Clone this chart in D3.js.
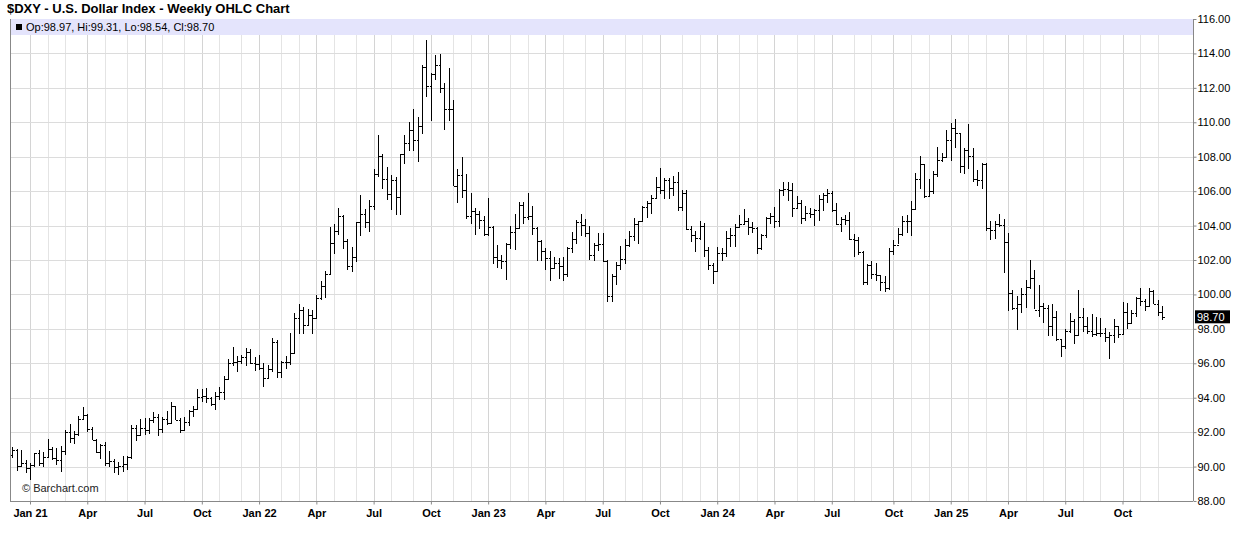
<!DOCTYPE html>
<html><head><meta charset="utf-8">
<script src="https://cdn.jsdelivr.net/npm/d3@7"></script>
<style>
html,body{margin:0;padding:0;background:#fff;}
svg{display:block;font-family:"Liberation Sans",Arial,sans-serif;}
</style></head>
<body>
<svg id="chart" width="1236" height="542"></svg>
<script>
// Weekly bars start with the week of Monday 2020-12-07
const startWeek = "2020-12-07";
const opens = [
90.70,90.98,90.02,90.23,
89.94,90.10,90.77,90.23,90.58,91.04,90.48,90.36,90.88,91.98,91.67,91.92,92.77,93.00,92.16,91.56,90.85,91.28,90.23,90.32,89.98,90.03,90.13,90.55,92.23,91.85,92.23,92.12,92.68,92.90,92.17,92.78,92.52,93.50,92.68,92.13,92.58,93.20,93.33,94.04,94.09,93.96,93.64,94.12,94.32,95.11,96.03,96.09,96.15,96.36,96.64,96.02,
95.97,95.74,95.17,95.64,97.26,95.49,96.07,96.05,96.62,98.62,99.12,98.23,98.80,98.62,99.80,100.50,101.21,103.00,103.66,104.56,103.08,101.67,102.15,104.20,104.69,104.20,105.13,107.01,108.06,106.72,105.85,106.62,105.65,108.16,108.82,109.54,109.00,109.76,113.19,112.12,112.80,113.31,111.99,110.75,110.77,106.29,106.94,106.04,104.54,104.85,104.70,104.32,
103.52,103.89,102.20,102.02,101.92,102.92,103.63,103.87,105.21,104.52,104.58,103.87,103.12,102.51,102.10,101.55,101.82,101.66,101.21,102.68,103.20,104.22,104.02,103.55,102.27,102.89,102.91,101.93,99.91,101.08,101.70,102.03,102.85,103.38,104.08,104.26,105.08,105.32,105.58,106.22,106.04,106.65,106.16,106.56,105.07,105.87,103.82,103.43,103.27,104.00,102.58,101.70,
101.38,102.40,102.39,103.28,103.43,103.92,104.11,104.28,103.94,103.86,102.72,103.43,104.43,104.55,104.29,106.04,106.15,106.09,105.03,105.30,104.45,104.72,104.67,104.89,105.55,105.80,105.87,104.88,104.09,104.40,104.32,103.21,103.14,102.46,100.72,101.70,101.18,101.11,100.72,100.38,102.52,102.89,103.49,104.26,104.28,104.99,106.69,107.55,105.74,105.99,107.00,107.82,108.00,
108.95,109.65,109.35,107.44,108.37,108.04,106.71,106.63,107.56,103.84,103.72,104.09,104.04,103.02,100.10,99.23,99.47,100.03,100.42,100.98,99.11,99.33,99.19,98.18,98.71,97.40,96.98,97.85,98.46,97.65,98.70,98.17,97.85,97.72,97.77,97.77,97.55,97.65,98.15,97.72,98.98,98.35,98.95,99.80,99.60,99.30,100.18,99.46,98.97
];
const highs = [
91.12,91.02,90.96,90.38,
90.21,90.80,90.95,90.84,91.60,91.13,91.05,91.20,92.10,92.48,92.08,92.94,93.44,93.05,92.27,91.58,91.30,91.44,90.91,90.45,90.24,90.63,90.59,92.40,92.41,92.74,92.84,92.83,93.19,93.04,92.87,93.20,93.73,93.53,92.82,92.87,93.29,93.53,94.50,94.51,94.56,94.04,94.31,94.63,95.27,96.25,96.94,96.44,96.48,96.91,96.81,96.39,
96.47,96.03,95.89,97.44,97.37,96.11,96.43,97.74,98.92,99.42,99.29,99.13,99.12,99.94,100.76,101.34,103.93,104.07,105.01,104.61,103.20,102.74,104.23,105.79,104.97,105.47,107.27,109.29,108.14,107.43,106.93,106.81,108.18,109.27,110.02,110.79,110.29,113.33,114.78,112.86,113.92,113.95,112.27,113.15,111.29,107.30,107.99,107.02,105.92,105.04,104.87,104.57,
105.63,103.95,102.90,102.30,103.01,103.96,104.67,105.36,105.36,105.88,105.11,103.89,103.18,102.68,102.55,102.18,102.10,102.20,102.76,103.62,104.31,104.70,104.40,103.99,102.98,103.54,103.55,101.98,101.19,101.86,102.84,103.24,103.71,104.43,104.24,105.16,105.43,105.78,106.84,107.35,106.78,106.78,106.89,107.11,106.09,106.09,104.00,103.66,104.26,104.17,102.73,101.82,
102.73,102.70,103.69,103.83,104.09,104.60,104.97,104.44,104.23,103.93,103.49,104.49,104.73,105.10,106.11,106.52,106.51,106.49,105.74,105.50,105.12,105.00,104.99,105.80,105.91,106.13,106.02,105.29,104.51,104.61,104.79,103.52,103.36,102.52,101.78,101.92,101.80,101.11,101.09,102.69,103.17,103.87,104.57,104.63,105.44,107.07,108.07,107.55,106.73,107.16,108.54,108.20,109.54,
109.96,110.18,109.35,108.52,109.88,108.52,107.20,107.61,107.61,104.26,104.25,104.68,104.37,103.54,100.27,99.88,100.38,100.85,101.98,101.40,100.54,99.48,99.38,99.42,99.05,97.42,97.98,98.95,98.55,100.25,99.22,98.67,98.84,98.68,98.64,98.07,97.84,98.60,98.19,99.56,99.49,99.10,99.85,100.36,99.75,100.39,100.23,99.65,99.31
];
const lows = [
90.47,89.72,89.98,89.65,
89.21,89.95,90.05,89.99,90.52,90.37,90.11,89.68,90.66,91.37,91.30,91.79,92.79,92.00,91.53,90.79,90.42,90.03,89.98,89.65,89.53,89.66,89.80,90.42,91.51,91.85,91.86,91.87,92.56,91.78,91.96,92.44,92.46,92.69,91.94,92.06,92.33,92.86,93.26,93.73,93.67,93.50,93.28,93.87,93.87,95.04,95.86,95.50,95.98,95.85,95.95,95.53,
95.63,94.63,95.15,95.52,95.14,95.12,95.64,95.90,96.61,97.71,97.73,98.18,97.68,98.55,99.65,99.80,101.14,102.36,103.43,102.66,101.43,101.29,101.87,103.41,103.83,103.65,104.89,106.85,106.10,105.48,104.93,104.63,104.64,107.59,108.35,108.35,107.68,109.31,111.45,110.06,112.46,111.68,109.54,110.07,106.27,105.34,105.62,104.37,104.12,103.45,103.79,103.37,
103.38,101.77,101.51,101.50,100.82,102.64,102.57,103.80,104.09,104.33,103.45,101.92,101.92,101.41,100.79,101.46,100.88,100.80,101.01,102.38,102.95,103.39,103.36,102.00,101.92,102.51,101.87,99.58,99.56,100.56,101.40,101.75,102.73,103.09,102.93,104.21,104.42,104.68,105.53,105.85,105.53,105.55,105.73,104.84,104.85,103.77,103.07,102.46,103.14,102.16,101.42,100.62,
101.33,101.96,102.20,102.77,102.76,103.83,104.02,103.44,103.58,102.33,102.60,103.29,104.10,103.88,103.92,105.71,105.42,104.52,104.98,104.08,104.28,104.45,103.99,104.28,104.85,105.30,104.80,104.06,103.65,104.03,103.18,102.16,102.30,100.53,100.52,100.89,100.79,100.22,100.16,100.27,102.28,102.93,103.38,103.58,103.37,104.99,106.14,105.63,105.71,105.86,106.80,107.67,107.90,
107.76,108.48,107.08,107.02,107.26,106.55,106.30,106.12,103.66,103.19,103.20,103.90,101.26,99.01,99.12,97.92,98.94,99.20,100.32,99.15,98.69,98.35,97.60,97.61,97.27,96.38,96.84,97.74,97.11,97.56,97.83,97.71,97.51,97.56,97.50,97.25,96.22,97.15,97.47,97.72,98.02,98.35,98.70,99.35,99.01,99.27,99.45,98.77,98.54
];
const closes = [
90.98,90.02,90.23,89.94,
90.10,90.77,90.23,90.58,91.04,90.48,90.36,90.88,91.98,91.67,91.92,92.77,93.00,92.16,91.56,90.85,91.28,90.23,90.32,89.98,90.03,90.13,90.55,92.23,91.85,92.23,92.12,92.68,92.90,92.17,92.78,92.52,93.50,92.68,92.13,92.58,93.20,93.33,94.04,94.09,93.96,93.64,94.12,94.32,95.11,96.03,96.09,96.15,96.36,96.64,96.02,95.97,
95.74,95.17,95.64,97.26,95.49,96.07,96.05,96.62,98.62,99.12,98.23,98.80,98.62,99.80,100.50,101.21,103.00,103.66,104.56,103.08,101.67,102.15,104.20,104.69,104.20,105.13,107.01,108.06,106.72,105.85,106.62,105.65,108.16,108.82,109.54,109.00,109.76,113.19,112.12,112.80,113.31,111.99,110.75,110.77,106.29,106.94,106.04,104.54,104.85,104.70,104.32,103.52,
103.89,102.20,102.02,101.92,102.92,103.63,103.87,105.21,104.52,104.58,103.87,103.12,102.51,102.10,101.55,101.82,101.66,101.21,102.68,103.20,104.22,104.02,103.55,102.27,102.89,102.91,101.93,99.91,101.08,101.70,102.03,102.85,103.38,104.08,104.26,105.08,105.32,105.58,106.22,106.04,106.65,106.16,106.56,105.07,105.87,103.82,103.43,103.27,104.00,102.58,101.70,101.38,
102.40,102.39,103.28,103.43,103.92,104.11,104.28,103.94,103.86,102.72,103.43,104.43,104.55,104.29,106.04,106.15,106.09,105.03,105.30,104.45,104.72,104.67,104.89,105.55,105.80,105.87,104.88,104.09,104.40,104.32,103.21,103.14,102.46,100.72,101.70,101.18,101.11,100.72,100.38,102.52,102.89,103.49,104.26,104.28,104.99,106.69,107.55,105.74,105.99,107.00,107.82,108.00,108.95,
109.65,109.35,107.44,108.37,108.04,106.71,106.63,107.56,103.84,103.72,104.09,104.04,103.02,100.10,99.23,99.47,100.03,100.42,100.98,99.11,99.33,99.19,98.18,98.71,97.40,96.98,97.85,98.46,97.65,98.70,98.17,97.85,97.72,97.77,97.77,97.55,97.65,98.15,97.72,98.98,98.35,98.95,99.80,99.60,99.30,100.18,99.46,98.99,98.70
];
const yTicks = [88,90,92,94,96,98,100,102,104,106,108,110,112,114,116];
const monthNames = ["Jan","Feb","Mar","Apr","May","Jun","Jul","Aug","Sep","Oct","Nov","Dec"];
const titleText = "$DXY - U.S. Dollar Index - Weekly OHLC Chart";
const lastBar = {op:"98.97", hi:"99.31", lo:"98.54", cl:"98.70"};

const n = closes.length;
const start = new Date(startWeek + "T00:00:00");
const weeks = d3.range(n).map(i => d3.timeDay.offset(start, 7*i));

const L = 10, R = 1193, T = 19, B = 501;
const x = d3.scaleLinear().domain([-0.54, 268.0]).range([L, R]);
const y = d3.scaleLinear().domain([88, 116]).range([B, T]);

const svg = d3.select("#chart");

// month gridlines
const monthStarts = [];
for (let i = 1; i < n; i++) {
  if (weeks[i].getMonth() !== weeks[i-1].getMonth()) monthStarts.push(i);
}
const grid = svg.append("g");
grid.selectAll("line.vg").data(monthStarts).join("line")
  .attr("x1", i => Math.round(x(i)) + 0.5).attr("x2", i => Math.round(x(i)) + 0.5)
  .attr("y1", T).attr("y2", B)
  .attr("stroke", i => weeks[i].getMonth() % 3 === 0 ? "#d4d4d4" : "#e4e4e4")
  .attr("stroke-width", 1);
grid.selectAll("line.hg").data(yTicks).join("line")
  .attr("x1", L).attr("x2", R)
  .attr("y1", d => Math.round(y(d)) + 0.5).attr("y2", d => Math.round(y(d)) + 0.5)
  .attr("stroke", "#dcdcdc").attr("stroke-width", 1);

// header band
svg.append("rect").attr("x", L + 1).attr("y", T).attr("width", R - L - 1).attr("height", 16)
  .attr("fill", "#e4e4fc");
svg.append("rect").attr("x", 16).attr("y", 24).attr("width", 6).attr("height", 6).attr("fill", "#000");
svg.append("text").attr("x", 26).attr("y", 31).attr("font-size", 11).attr("fill", "#000")
  .text(`Op:${lastBar.op}, Hi:${lastBar.hi}, Lo:${lastBar.lo}, Cl:${lastBar.cl}`);

// OHLC bars
const bars = svg.append("g").attr("stroke", "#000").attr("stroke-width", 1).attr("shape-rendering", "crispEdges");
d3.range(n).forEach(i => {
  const cx = Math.round(x(i)) + 0.5;
  bars.append("line").attr("x1", cx).attr("x2", cx).attr("y1", y(highs[i])).attr("y2", y(lows[i]));
  bars.append("line").attr("x1", cx - 2).attr("x2", cx).attr("y1", Math.round(y(opens[i])) + 0.5).attr("y2", Math.round(y(opens[i])) + 0.5);
  bars.append("line").attr("x1", cx).attr("x2", cx + 2).attr("y1", Math.round(y(closes[i])) + 0.5).attr("y2", Math.round(y(closes[i])) + 0.5);
});

// frame
svg.append("line").attr("x1", L + 0.5).attr("x2", L + 0.5).attr("y1", T).attr("y2", B).attr("stroke", "#888");
svg.append("line").attr("x1", R + 0.5).attr("x2", R + 0.5).attr("y1", T).attr("y2", B).attr("stroke", "#888");
svg.append("line").attr("x1", L).attr("x2", R).attr("y1", B + 0.5).attr("y2", B + 0.5).attr("stroke", "#888");

// right axis
const yAxis = d3.axisRight(y).tickValues(yTicks).tickFormat(d3.format(".2f")).tickSize(3);
const ya = svg.append("g").attr("transform", `translate(${R + 0.5},0)`).call(yAxis);
ya.select(".domain").remove();
ya.selectAll("text").attr("font-size", 11).attr("font-family", "Liberation Sans, Arial, sans-serif").attr("fill", "#000").attr("x", 4);
ya.selectAll("line").attr("stroke", "#888");

// bottom axis (quarter labels)
const qStarts = monthStarts.filter(i => weeks[i].getMonth() % 3 === 0);
const xAxis = d3.axisBottom(x).tickValues(qStarts).tickSize(3)
  .tickFormat(i => weeks[i].getMonth() === 0 ? "Jan " + String(weeks[i].getFullYear()).slice(2) : monthNames[weeks[i].getMonth()]);
const xa = svg.append("g").attr("transform", `translate(0,${B + 0.5})`).call(xAxis);
xa.select(".domain").remove();
xa.selectAll("text").attr("font-size", 11).attr("font-weight", "bold").attr("font-family", "Liberation Sans, Arial, sans-serif").attr("fill", "#000").attr("dy", "0.9em");
xa.selectAll("line").attr("stroke", "#888");

// last price box
const lp = closes[n - 1];
svg.append("rect").attr("x", R + 2).attr("y", y(lp) - 6.5).attr("width", 35).attr("height", 13).attr("fill", "#000");
svg.append("text").attr("x", R + 4).attr("y", y(lp) + 4).attr("font-size", 11).attr("fill", "#fff").text(lp.toFixed(2));

// title
svg.append("text").attr("x", 7).attr("y", 13).attr("font-size", 13).attr("font-weight", "bold").attr("fill", "#000").text(titleText);

// watermark
svg.append("text").attr("x", 22).attr("y", 492).attr("font-size", 11).attr("fill", "#222").text("© Barchart.com");
</script>
</body></html>
